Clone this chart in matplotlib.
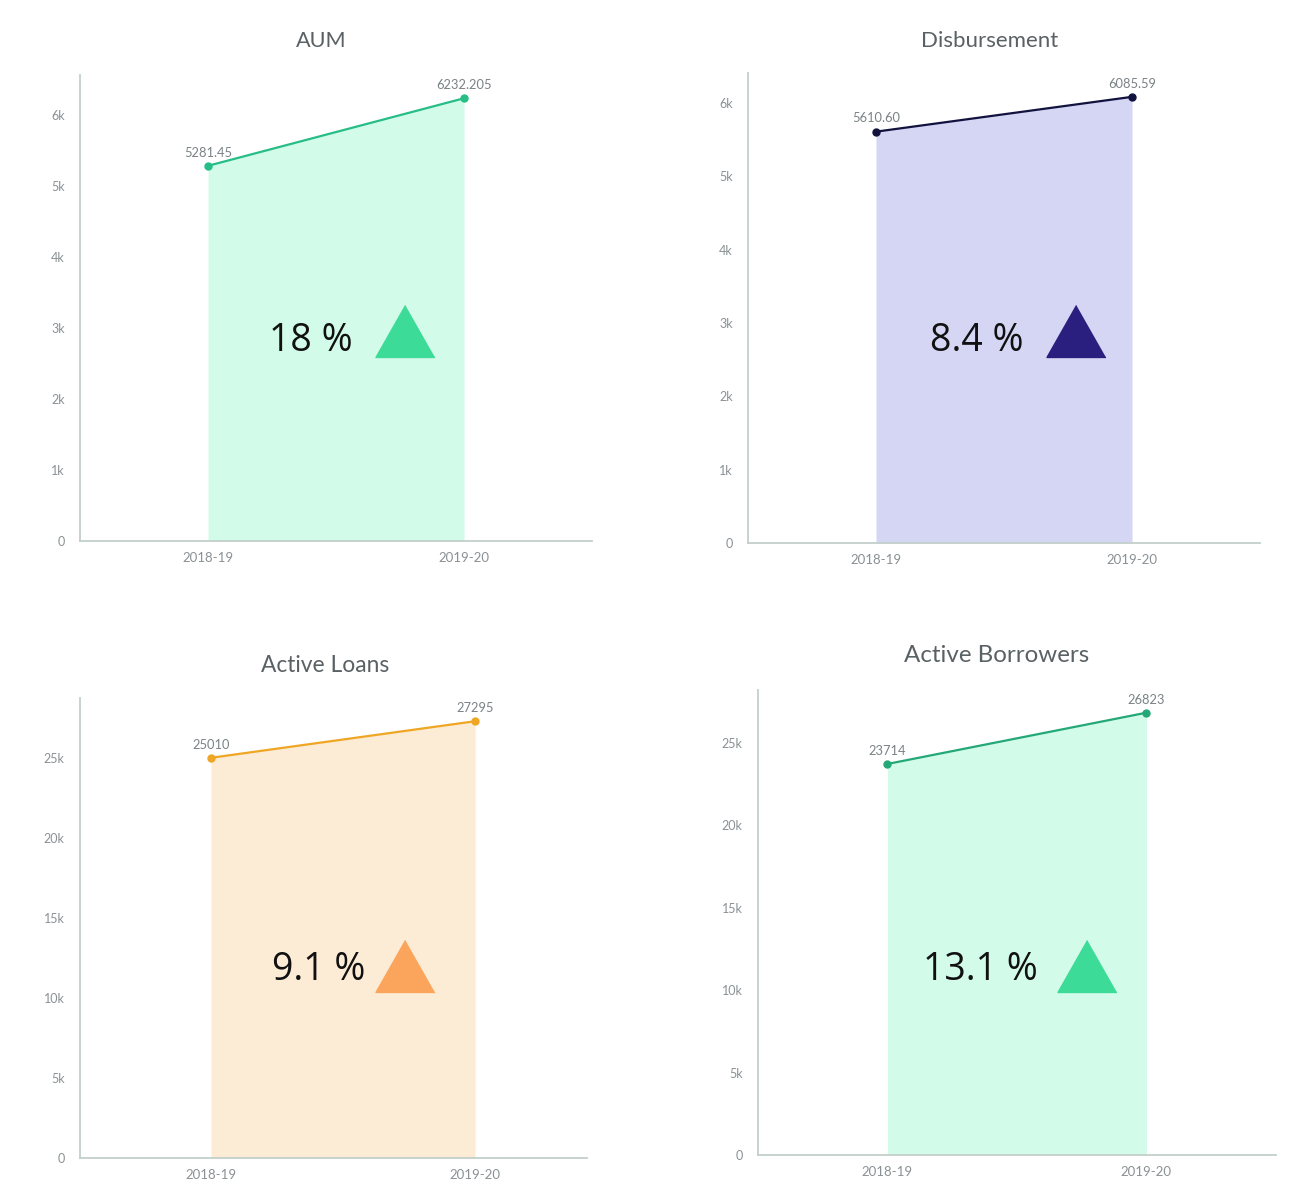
import matplotlib
matplotlib.use('Agg')
import matplotlib.pyplot as plt
from matplotlib.ticker import FuncFormatter

plt.rcParams['font.family'] = ['Lato', 'DejaVu Sans']

# 年度数据
periods = ['2018-19', '2019-20']

titles = ['AUM', 'Disbursement', 'Active Loans', 'Active Borrowers']
aum = [5281.45, 6232.205]
disbursement = [5610.60, 6085.59]
active_loans = [25010, 27295]
active_borrowers = [23714, 26823]
growth_labels = ['18 %', '8.4 %', '9.1 %', '13.1 %']

series = [aum, disbursement, active_loans, active_borrowers]
value_formats = ['{}', '{:.2f}', '{:.0f}', '{:.0f}']
tick_steps = [1000, 1000, 5000, 5000]

# 每个子图的样式与位置
panels = [
    dict(rect=[0.0620, 0.5446, 0.3966, 0.3923], ylim=6560, xlim=(-0.5, 1.5),
         line='#27bd87', fill='#d2fbe9', tri='#3ddb98', title_size=15.6,
         title_xy=(0.471, 1.073), pct_xy=(0.451, 0.430), tri_xy=(0.634, 0.451)),
    dict(rect=[0.5794, 0.5429, 0.3966, 0.3956], ylim=6410, xlim=(-0.5, 1.5),
         line='#12123f', fill='#d4d6f3', tri='#2a1f7e', title_size=16,
         title_xy=(0.471, 1.068), pct_xy=(0.447, 0.430), tri_xy=(0.640, 0.451)),
    dict(rect=[0.0620, 0.0253, 0.3927, 0.3872], ylim=28750, xlim=(-0.496, 1.424),
         line='#efa624', fill='#fcecd5', tri='#fba45c', title_size=16.4,
         title_xy=(0.483, 1.070), pct_xy=(0.470, 0.408), tri_xy=(0.640, 0.417)),
    dict(rect=[0.5871, 0.0278, 0.4012, 0.3914], ylim=28200, xlim=(-0.5, 1.5),
         line='#24a878', fill='#d2fbe9', tri='#3ddb98', title_size=17.4,
         title_xy=(0.461, 1.075), pct_xy=(0.429, 0.397), tri_xy=(0.636, 0.406)),
]

# 三角形标记，宽略大于高
tri_marker = [(0, 0.88), (-1, -0.88), (1, -0.88)]


def k_format(v, pos):
    if v == 0:
        return '0'
    return f'{v / 1000:g}k'


fig = plt.figure(figsize=(12.91, 11.88), dpi=100)

for i, (title, values, fmt, step, p) in enumerate(zip(titles, series, value_formats, tick_steps, panels)):
    ax = fig.add_axes(p['rect'])
    x = list(range(len(periods)))

    ax.fill_between(x, 0, values, color=p['fill'], linewidth=0, zorder=1)
    ax.plot(x, values, color=p['line'], linewidth=1.6, marker='o', markersize=5, zorder=3)
    for xi, v in zip(x, values):
        ax.annotate(fmt.format(v), (xi, v), xytext=(0, 9.5), textcoords='offset points',
                    ha='center', va='center', fontsize=9.3, color='#7a8285')

    ax.set_xlim(*p['xlim'])
    ax.set_ylim(0, p['ylim'])
    ax.set_xticks(x)
    ax.set_xticklabels(periods)
    ax.set_yticks(range(0, int(p['ylim']) + 1, step))
    ax.yaxis.set_major_formatter(FuncFormatter(k_format))
    ax.tick_params(axis='both', length=0, labelcolor='#8a9194')
    ax.tick_params(axis='x', pad=8, labelsize=9.5)
    ax.tick_params(axis='y', pad=11, labelsize=9)

    for side in ['top', 'right']:
        ax.spines[side].set_visible(False)
    for side in ['left', 'bottom']:
        ax.spines[side].set_color('#c4cfcb')
        ax.spines[side].set_linewidth(1.3)

    ax.text(*p['title_xy'], title, transform=ax.transAxes, ha='center', va='center',
            fontsize=p['title_size'], color='#5a6164')

    # 增长率与上升三角
    ax.text(*p['pct_xy'], growth_labels[i], transform=ax.transAxes,
            ha='center', va='center', fontsize=27, color='#111111',
            family=['Open Sans', 'DejaVu Sans'], zorder=4)
    ax.plot([p['tri_xy'][0]], [p['tri_xy'][1]], transform=ax.transAxes,
            marker=tri_marker, markersize=42.5, color=p['tri'], linestyle='none', zorder=4)

fig.savefig('out.png', dpi=100, facecolor='white')
